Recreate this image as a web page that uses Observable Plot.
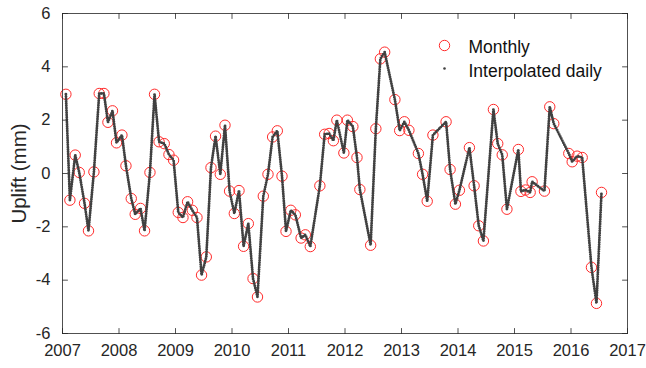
<!DOCTYPE html>
<html>
<head>
<meta charset="utf-8">
<script src="https://cdn.jsdelivr.net/npm/d3@7"></script>
<script src="https://cdn.jsdelivr.net/npm/@observablehq/plot@0.6"></script>
<style>
  html, body { margin: 0; padding: 0; background: #fff; }
  #chart { width: 646px; height: 368px; }
</style>
</head>
<body>
<div id="chart"></div>
<script>
// Monthly GPS uplift solutions (decimal year, mm)
const monthYear = [
  2007.060, 2007.131, 2007.225, 2007.296, 2007.390, 2007.460, 2007.556, 2007.650, 2007.733, 2007.804, 2007.885, 2007.956,
  2008.052, 2008.123, 2008.217, 2008.287, 2008.381, 2008.452, 2008.548, 2008.629, 2008.709, 2008.801, 2008.884, 2008.966,
  2009.049, 2009.132, 2009.214, 2009.297, 2009.380, 2009.461, 2009.545, 2009.628, 2009.709, 2009.793, 2009.876, 2009.957,
  2010.041, 2010.124, 2010.205, 2010.289, 2010.372, 2010.451, 2010.554, 2010.637, 2010.719, 2010.802, 2010.885, 2010.956,
  2011.041, 2011.121, 2011.223, 2011.298, 2011.386, 2011.555, 2011.640, 2011.719, 2011.794, 2011.856, 2011.980,
  2012.042, 2012.139, 2012.212, 2012.263, 2012.454, 2012.546, 2012.626, 2012.702, 2012.883, 2012.968,
  2013.051, 2013.131, 2013.299, 2013.373, 2013.455, 2013.556, 2013.789, 2013.860, 2013.954,
  2014.025, 2014.202, 2014.285, 2014.367, 2014.450, 2014.627, 2014.703, 2014.783, 2014.866,
  2015.068, 2015.114, 2015.194, 2015.277, 2015.312, 2015.530, 2015.624, 2015.695, 2015.961,
  2016.021, 2016.109, 2016.198, 2016.362, 2016.451, 2016.540
];
const upliftMm = [
  2.97, -1.00, 0.69, 0.04, -1.12, -2.15, 0.06, 3.00, 3.00, 1.92, 2.35, 1.15,
  1.44, 0.29, -0.94, -1.53, -1.31, -2.15, 0.04, 2.97, 1.19, 1.12, 0.71, 0.50,
  -1.46, -1.65, -1.06, -1.38, -1.65, -3.81, -3.13, 0.22, 1.40, -0.03, 1.81, -0.66,
  -1.50, -0.64, -2.73, -1.88, -3.94, -4.63, -0.85, -0.03, 1.37, 1.60, -0.10, -2.17,
  -1.38, -1.55, -2.42, -2.30, -2.74, -0.46, 1.47, 1.50, 1.23, 2.00, 0.77,
  2.00, 1.76, 0.60, -0.60, -2.69, 1.68, 4.30, 4.55, 2.77, 1.61,
  1.94, 1.62, 0.75, -0.03, -1.04, 1.44, 1.94, 0.15, -1.15,
  -0.63, 0.97, -0.46, -1.96, -2.53, 2.40, 1.12, 0.70, -1.34,
  0.90, -0.67, -0.62, -0.71, -0.31, -0.66, 2.50, 1.87, 0.75,
  0.44, 0.65, 0.60, -3.52, -4.87, -0.71
];

const xTicks = [2007, 2008, 2009, 2010, 2011, 2012, 2013, 2014, 2015, 2016, 2017];
const yTicks = [-6, -4, -2, 0, 2, 4, 6];
const yLabel = "Uplift (mm)";
const legendLabels = ["Monthly", "Interpolated daily"];

const series = monthYear.map((t, i) => ({t, v: upliftMm[i]}));

const ink = "#262626";
const red = "#ff2a2a";
const dark = "#404040";
const tickLen = 5;

// short inward tick drawn from the anchor point
const tickShape = {draw(context, l) { context.moveTo(0, 0); context.lineTo(0, -l); }};

const chart = Plot.plot({
  width: 646,
  height: 368,
  marginLeft: 62,
  marginRight: 19,
  marginTop: 13,
  marginBottom: 35,
  x: {domain: [2007, 2017]},
  y: {domain: [-6, 6]},
  style: {fontFamily: "'Liberation Sans', Arial, sans-serif", fontSize: "16.5px", color: ink, background: "#fff", overflow: "visible"},
  marks: [
    // monthly circles
    Plot.dot(series, {x: "t", y: "v", r: 5.2, stroke: red, strokeWidth: 1, fill: "none"}),
    // daily series rendered as a dense dotted trace
    Plot.line(series, {x: "t", y: "v", stroke: dark, strokeWidth: 2.9, strokeDasharray: "0 2.3", strokeLinecap: "round", strokeLinejoin: "round"}),

    // box and inward ticks on all four sides
    Plot.frame({stroke: ink, strokeWidth: 0.8}),
    Plot.vector(xTicks, {x: d => d, y: -6, length: tickLen, anchor: "start", shape: tickShape, stroke: ink, strokeWidth: 0.8}),
    Plot.vector(xTicks, {x: d => d, y: 6, length: tickLen, anchor: "start", rotate: 180, shape: tickShape, stroke: ink, strokeWidth: 0.8}),
    Plot.vector(yTicks, {x: 2007, y: d => d, length: tickLen, anchor: "start", rotate: 90, shape: tickShape, stroke: ink, strokeWidth: 0.8}),
    Plot.vector(yTicks, {x: 2017, y: d => d, length: tickLen, anchor: "start", rotate: -90, shape: tickShape, stroke: ink, strokeWidth: 0.8}),

    Plot.axisX(xTicks, {tickSize: 0, tickPadding: 11, tickFormat: "d", label: null, fill: ink}),
    Plot.axisY(yTicks, {tickSize: 0, tickPadding: 12, tickFormat: d => String(d).replace("\u2212", "-"), label: null, fill: ink}),

    Plot.text([yLabel], {text: d => d, frameAnchor: "left", dx: -43, rotate: -90, textAnchor: "middle", lineAnchor: "middle", fontSize: 20.5, fill: ink}),

    // legend
    Plot.dot([legendLabels[0]], {frameAnchor: "top-left", dx: 382, dy: 32, r: 5.2, stroke: red, strokeWidth: 1, fill: "none"}),
    Plot.dot([legendLabels[1]], {frameAnchor: "top-left", dx: 382, dy: 55, r: 1.3, fill: dark}),
    Plot.text([legendLabels[0]], {text: d => d, frameAnchor: "top-left", dx: 406, dy: 33.5, textAnchor: "start", lineAnchor: "middle", fontSize: 17.5, fill: "#111"}),
    Plot.text([legendLabels[1]], {text: d => d, frameAnchor: "top-left", dx: 406, dy: 57.5, textAnchor: "start", lineAnchor: "middle", fontSize: 17.5, fill: "#111"})
  ]
});

document.getElementById("chart").appendChild(chart);
</script>
</body>
</html>
